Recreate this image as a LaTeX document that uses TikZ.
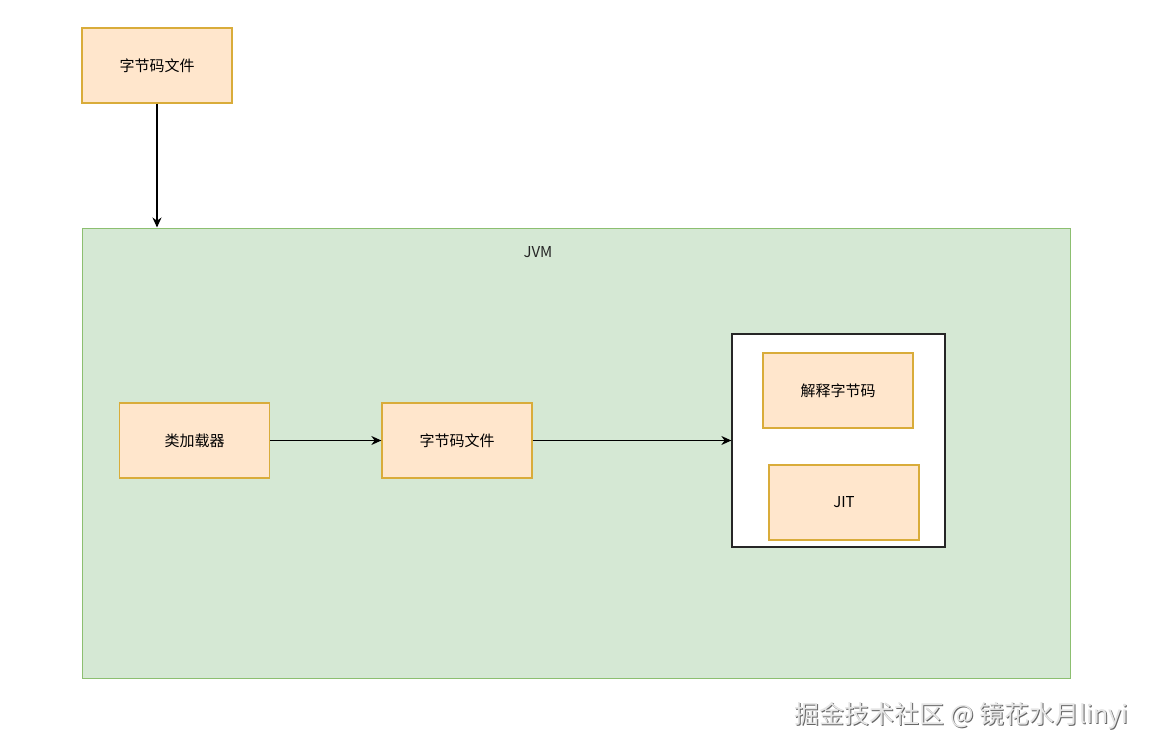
\documentclass[tikz,border=0pt]{standalone}
\usepackage{fontspec}
\setmainfont{Noto Sans CJK SC}
\newfontfamily\cjk{Noto Sans CJK SC}
\usetikzlibrary{arrows.meta}
\definecolor{orfill}{HTML}{FFE6CC}
\definecolor{orline}{HTML}{D9AC3A}
\definecolor{grfill}{HTML}{D5E8D4}
\definecolor{grline}{HTML}{8CBF70}
\begin{document}
\begin{tikzpicture}[x=1pt,y=-1pt,
  obox/.style={draw=orline,fill=orfill,line width=1.3pt,minimum width=150pt,minimum height=75pt,inner sep=0pt,font=\cjk\fontsize{15pt}{17pt}\selectfont,text=black},
  conn/.style={draw=black,line width=1.1pt,-{Stealth[length=10pt,width=9pt]}}]
\useasboundingbox (0,0) rectangle (1154,752);
\fill[white] (0,0) rectangle (1154,752);
% JVM container
\node[draw=grline,fill=grfill,line width=1pt,minimum width=988pt,minimum height=450pt,inner sep=0pt] (jvm) at (576,453) {};
\node[font=\cjk\fontsize{15pt}{17pt}\selectfont,text=black!85] (jvmlabel) at (538,252) {JVM};
% top file
\node[obox] (file) at (157,65.5) {字节码文件};
% inner
\node[obox] (loader) at (194.5,440.5) {类加载器};
\node[obox] (bytecode) at (457,440.5) {字节码文件};
\node[draw=black!85,fill=white,line width=1.3pt,minimum width=213pt,minimum height=213pt,inner sep=0pt] (engine) at (838.5,440.5) {};
\node[obox] (interp) at (838,390.5) {解释字节码};
\node[obox] (jit) at (844,502.5) {JIT};
% connectors
\draw[conn] (file.south) -- (file.south |- jvm.north);
\draw[conn] (loader.east) -- (bytecode.west);
\draw[conn] (bytecode.east) -- (engine.west);
% watermark
\node[font=\cjk\fontsize{25pt}{28pt}\selectfont,text=black!60,anchor=east] (wmshadow) at (1133.2,717.2) {掘金技术社区 @ 镜花水月linyi};
\node[font=\cjk\fontsize{25pt}{28pt}\selectfont,text=white!90!black,anchor=east] (wm) at (1132,716) {掘金技术社区 @ 镜花水月linyi};
\end{tikzpicture}
\end{document}
